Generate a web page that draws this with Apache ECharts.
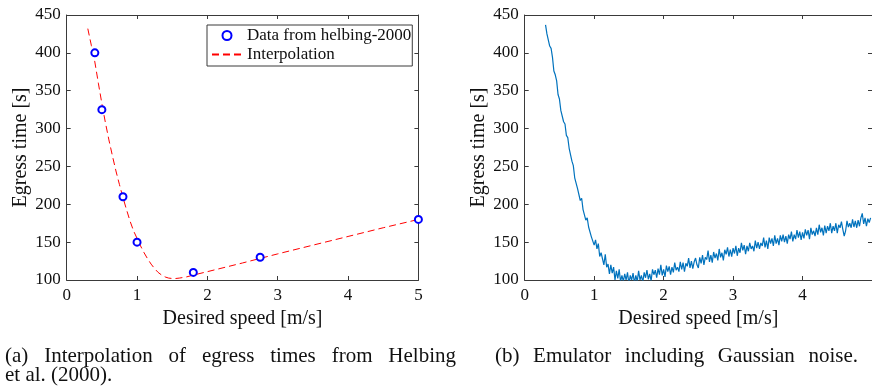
<!DOCTYPE html>
<html><head><meta charset="utf-8">
<script src="https://cdn.jsdelivr.net/npm/echarts@6/dist/echarts.min.js"></script>
<style>html,body{margin:0;padding:0;background:#fff}#c{width:872px;height:390px}</style>
</head><body><div id="c"></div>
<script>
// ---- data ----
const dataSpeed  = [0.4, 0.5, 0.8, 1.0, 1.8, 2.75, 5.0];
const dataEgress = [400, 325, 210, 150, 110, 130, 180];

const interpSpeed  = [0.30,0.35,0.40,0.45,0.50,0.55,0.60,0.65,0.70,0.75,0.80,0.85,0.90,0.95,1.00,1.05,1.10,1.15,1.20,1.25,1.30,1.35,1.40,1.45,1.50,1.55,1.60,1.70,1.80,2.00,2.50,3.00,3.50,4.00,4.50,5.00];
const interpEgress = [432,410,388,360,333,308,285,264,244,226,209,193,178,165,155,145,136,128,121,115,110,106.5,104,102.5,102,102,102.5,104,106.5,111,122.5,134.5,146,157.5,169,180];

const noiseSpeed = [
0.30,0.32,0.34,0.36,0.38, 0.40,0.42,0.44,0.46,0.48, 0.50,0.52,0.54,0.56,0.58, 0.60,0.62,0.64,0.66,0.68,
0.70,0.72,0.74,0.76,0.78, 0.80,0.82,0.84,0.86,0.88, 0.90,0.92,0.94,0.96,0.98, 1.00,1.02,1.04,1.06,1.08,
1.10,1.12,1.14,1.16,1.18, 1.20,1.22,1.24,1.26,1.28, 1.30,1.32,1.34,1.36,1.38, 1.40,1.42,1.44,1.46,1.48,
1.50,1.52,1.54,1.56,1.58, 1.60,1.62,1.64,1.66,1.68, 1.70,1.72,1.74,1.76,1.78, 1.80,1.82,1.84,1.86,1.88,
1.90,1.92,1.94,1.96,1.98, 2.00,2.02,2.04,2.06,2.08, 2.10,2.12,2.14,2.16,2.18, 2.20,2.22,2.24,2.26,2.28,
2.30,2.32,2.34,2.36,2.38, 2.40,2.42,2.44,2.46,2.48, 2.50,2.52,2.54,2.56,2.58, 2.60,2.62,2.64,2.66,2.68,
2.70,2.72,2.74,2.76,2.78, 2.80,2.82,2.84,2.86,2.88, 2.90,2.92,2.94,2.96,2.98, 3.00,3.02,3.04,3.06,3.08,
3.10,3.12,3.14,3.16,3.18, 3.20,3.22,3.24,3.26,3.28, 3.30,3.32,3.34,3.36,3.38, 3.40,3.42,3.44,3.46,3.48,
3.50,3.52,3.54,3.56,3.58, 3.60,3.62,3.64,3.66,3.68, 3.70,3.72,3.74,3.76,3.78, 3.80,3.82,3.84,3.86,3.88,
3.90,3.92,3.94,3.96,3.98, 4.00,4.02,4.04,4.06,4.08, 4.10,4.12,4.14,4.16,4.18, 4.20,4.22,4.24,4.26,4.28,
4.30,4.32,4.34,4.36,4.38, 4.40,4.42,4.44,4.46,4.48, 4.50,4.52,4.54,4.56,4.58, 4.60,4.62,4.64,4.66,4.68,
4.70,4.72,4.74,4.76,4.78, 4.80,4.82,4.84,4.86,4.88, 4.90,4.92,4.94,4.96,4.98];
const noiseEgress = [
437,425,424,409,406, 394,376,371,363,345, 339,324,324,309,306, 291,288,274,273,257,
251,235,235,221,219, 205,208,193,192,179, 182,170,172,157,159, 146,153,141,148,131,
136,138,120,134,117, 121,108,120,109,117, 100,112,102,114,98, 106,98,108,100,110,
95,106,100,109,96, 106,98,112,100,106, 97,110,103,113,101, 108,99,114,107,113,
103,115,107,120,106, 114,104,119,111,118, 107,117,110,123,113, 117,111,124,114,123,
111,122,118,129,116, 125,115,124,129,120, 116,130,122,133,120, 130,127,139,124,133,
123,137,129,135,126, 141,130,136,126,140, 134,143,131,140,131, 142,135,145,132,142,
136,149,139,146,134, 145,138,149,141,145, 138,152,142,150,141, 149,145,156,143,152,
141,156,148,155,145, 159,148,155,146,159, 151,160,150,158,148, 160,154,164,151,160,
154,166,156,164,153, 163,155,167,159,166, 154,169,160,165,158, 169,160,173,163,169,
159,172,162,171,165, 175,162,171,165,175, 162,173,169,177,167, 158,165,178,170,175,
169,180,170,178,169, 179,171,182,188,174, 182,171,181,176,182];

const xMin = 0, xMax = 5, xStep = 1;
const yMin = 100, yMax = 450, yStep = 50;
const xName = 'Desired speed [m/s]';
const yName = 'Egress time [s]';
const seriesNames = ['Data from helbing-2000', 'Interpolation'];
const captionA1 = ['(a)','Interpolation','of','egress','times','from','Helbing'];
const captionA2 = 'et al. (2000).';
const captionB  = ['(b)','Emulator','including','Gaussian','noise.'];

// ---- styling ----
const FONT = '"Liberation Serif", "Times New Roman", serif';
const AX = '#3a3a3a';
const TXT = '#111';

function zip(a, b) { return a.map((v, i) => [v, b[i]]); }

function xAxes(gi, showMax) {
  const base = {
    gridIndex: gi, type: 'value', min: xMin, max: xMax, interval: xStep,
    splitLine: { show: false },
    axisLine: { show: true, onZero: false, lineStyle: { color: AX, width: 1 } },
    axisTick: { show: true, inside: true, length: 4, lineStyle: { color: AX } }
  };
  return [
    Object.assign({}, base, {
      position: 'bottom', name: xName, nameLocation: 'middle', nameGap: 27,
      nameTextStyle: { fontFamily: FONT, fontSize: 20, color: TXT },
      axisLabel: { show: true, margin: 7, fontFamily: FONT, fontSize: 17, color: TXT, showMaxLabel: showMax }
    }),
    Object.assign({}, base, { position: 'top', axisLabel: { show: false } })
  ];
}
function yAxes(gi) {
  const base = {
    gridIndex: gi, type: 'value', min: yMin, max: yMax, interval: yStep,
    splitLine: { show: false },
    axisLine: { show: true, onZero: false, lineStyle: { color: AX, width: 1 } },
    axisTick: { show: true, inside: true, length: 4, lineStyle: { color: AX } }
  };
  return [
    Object.assign({}, base, {
      position: 'left', name: yName, nameLocation: 'middle', nameGap: 36,
      nameTextStyle: { fontFamily: FONT, fontSize: 20, color: TXT },
      axisLabel: { show: true, margin: 6, fontFamily: FONT, fontSize: 17, color: TXT }
    }),
    Object.assign({}, base, { position: 'right', axisLabel: { show: false } })
  ];
}

// caption layout helpers (word positions computed from measured widths)
const mctx = document.createElement('canvas').getContext('2d');
function measure(t, font) { mctx.font = font; return mctx.measureText(t).width; }
function justify(words, x0, x1, y, font) {
  const ws = words.map(w => measure(w, font));
  const total = ws.reduce((a, b) => a + b, 0);
  const gap = Math.max((x1 - x0 - total) / (words.length - 1), measure(' ', font));
  let x = x0;
  return words.map((w, i) => {
    const el = { type: 'text', x: x, y: y, silent: true,
      style: { text: w, font: font, fill: TXT, align: 'left', verticalAlign: 'middle' } };
    x += ws[i] + gap;
    return el;
  });
}
const capFont = '21px "Liberation Serif", serif';
const graphics = []
  .concat(justify(captionA1, 5, 456, 356, capFont))
  .concat([{ type: 'text', x: 5, y: 375, silent: true,
    style: { text: captionA2, font: capFont, fill: TXT, align: 'left', verticalAlign: 'middle' } }])
  .concat(justify(captionB, 495, 858, 356, capFont));

const chart = echarts.init(document.getElementById('c'), null, { renderer: 'canvas' });
chart.setOption({
  animation: false,
  backgroundColor: '#fff',
  grid: [
    { left: 66.7, top: 15, width: 351.7, height: 265, containLabel: false },
    { left: 524.7, top: 15, width: 351.7, height: 265, containLabel: false }
  ],
  xAxis: xAxes(0, true).concat(xAxes(1, false)),
  yAxis: yAxes(0).concat(yAxes(1)),
  legend: {
    show: true, orient: 'vertical', left: 207, top: 25,
    padding: [2, 1, 3, 4], itemGap: 2, itemWidth: 30, itemHeight: 9,
    backgroundColor: '#fff', borderColor: AX, borderWidth: 1, borderRadius: 0,
    textStyle: { fontFamily: FONT, fontSize: 17, color: TXT },
    data: [
      { name: seriesNames[0] },
      { name: seriesNames[1], itemStyle: { opacity: 0 } }
    ]
  },
  series: [
    {
      name: seriesNames[1], type: 'line', xAxisIndex: 0, yAxisIndex: 0,
      data: zip(interpSpeed, interpEgress), symbol: 'none', showSymbol: false, smooth: false,
      lineStyle: { color: '#ff0000', width: 1, type: [7, 4] }, itemStyle: { color: '#ff0000' }, z: 2
    },
    {
      name: seriesNames[0], type: 'scatter', xAxisIndex: 0, yAxisIndex: 0,
      data: zip(dataSpeed, dataEgress), symbol: 'emptyCircle', symbolSize: 7, clip: false,
      itemStyle: { color: '#0000ff', borderColor: '#0000ff', borderWidth: 2, opacity: 1 }, z: 3
    },
    {
      name: 'noise', type: 'line', xAxisIndex: 2, yAxisIndex: 2,
      data: zip(noiseSpeed, noiseEgress), symbol: 'none', clip: true,
      lineStyle: { color: '#0072BD', width: 1.2 }, z: 2
    }
  ],
  graphic: graphics
});
</script></body></html>
